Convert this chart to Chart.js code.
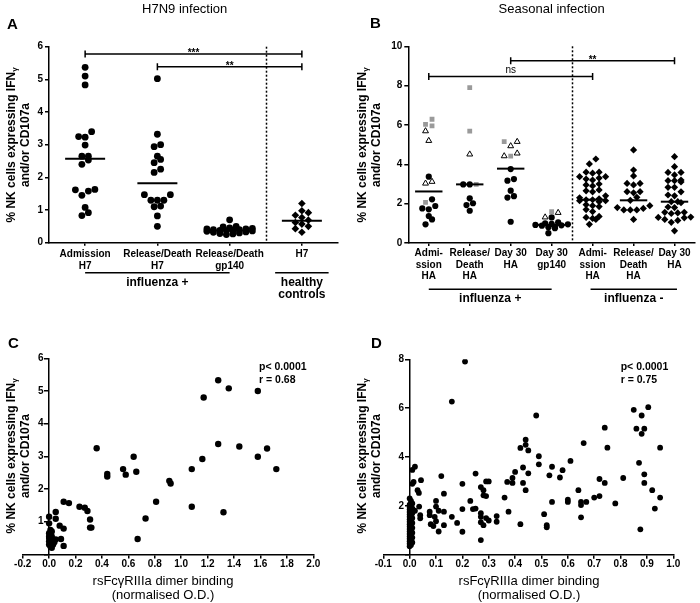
<!DOCTYPE html>
<html><head><meta charset="utf-8">
<script src="https://cdn.jsdelivr.net/npm/chart.js@4.4.1/dist/chart.umd.min.js"></script>
<style>
html,body{margin:0;padding:0;background:#fff}
body{position:relative;width:700px;height:603px;overflow:hidden;font-family:"Liberation Sans",Arial,Helvetica,sans-serif;color:#000}
canvas{position:absolute}
.t{position:absolute;white-space:nowrap;line-height:1}
.yt{position:absolute;font-weight:bold;font-size:12px;line-height:12px;text-align:center;white-space:nowrap;transform:translate(-50%,-50%) rotate(-90deg)}
.sub{font-size:8px;position:relative;top:2px}
</style></head><body>
<canvas id="cA" width="350" height="300" style="left:0;top:0"></canvas>
<canvas id="cB" width="350" height="310" style="left:350px;top:0"></canvas>
<canvas id="cC" width="350" height="303" style="left:0;top:300px"></canvas>
<canvas id="cD" width="350" height="303" style="left:350px;top:300px"></canvas>

<div class="t" style="left:184.7px;top:1.8px;font-size:13px;transform:translateX(-50%)">H7N9 infection</div>
<div class="t" style="left:551.7px;top:1.8px;font-size:13px;transform:translateX(-50%)">Seasonal infection</div>
<div class="t" style="left:7px;top:15.6px;font-size:15px;font-weight:bold">A</div>
<div class="t" style="left:370px;top:14.5px;font-size:15px;font-weight:bold">B</div>
<div class="t" style="left:8px;top:335.3px;font-size:15px;font-weight:bold">C</div>
<div class="t" style="left:371px;top:335.3px;font-size:15px;font-weight:bold">D</div>

<div class="yt" style="left:18px;top:145px">% NK cells expressing IFN<span class="sub">γ</span><br>and/or CD107a</div>
<div class="yt" style="left:369px;top:145px">% NK cells expressing IFN<span class="sub">γ</span><br>and/or CD107a</div>
<div class="yt" style="left:18px;top:456px">% NK cells expressing IFN<span class="sub">γ</span><br>and/or CD107a</div>
<div class="yt" style="left:369px;top:456px">% NK cells expressing IFN<span class="sub">γ</span><br>and/or CD107a</div>

<div class="t" style="left:259px;top:360.6px;font-size:10.5px;font-weight:bold">p&lt; 0.0001</div>
<div class="t" style="left:259px;top:373.9px;font-size:10.5px;font-weight:bold">r = 0.68</div>
<div class="t" style="left:620.7px;top:360.6px;font-size:10.5px;font-weight:bold">p&lt; 0.0001</div>
<div class="t" style="left:620.7px;top:373.9px;font-size:10.5px;font-weight:bold">r = 0.75</div>

<div class="t" style="left:163px;top:573.5px;font-size:13px;transform:translateX(-50%)">rsFcγRIIIa dimer binding</div>
<div class="t" style="left:163px;top:587.5px;font-size:13px;transform:translateX(-50%)">(normalised O.D.)</div>
<div class="t" style="left:529px;top:573.5px;font-size:13px;transform:translateX(-50%)">rsFcγRIIIa dimer binding</div>
<div class="t" style="left:529px;top:587.5px;font-size:13px;transform:translateX(-50%)">(normalised O.D.)</div>

<script>
// ================= DATA =================
// Panel A (H7N9 infection)
const catsA = [['Admission','H7'],['Release/Death','H7'],['Release/Death','gp140'],['H7']];
const admissionH7 = [5.37,5.10,4.83,3.40,3.25,3.23,2.99,2.65,2.65,2.53,2.40,1.63,1.62,1.58,1.45,1.08,0.92,0.83];
const releaseH7 = [5.02,3.32,3.00,2.94,2.65,2.55,2.45,2.25,2.15,1.47,1.47,1.30,1.30,1.30,1.12,1.10,0.82,0.50];
const releaseGp140 = [0.70,0.50,0.48,0.45,0.44,0.42,0.42,0.40,0.40,0.38,0.38,0.37,0.36,0.35,0.33,0.32,0.30,0.28,0.27,0.25];
const healthyH7 = [1.20,0.98,0.92,0.84,0.77,0.69,0.62,0.57,0.50,0.43,0.32];
const mediansA = [2.57,1.82,0.37,0.67];
const ticksAY = [0,1,2,3,4,5,6];
const sigAFrom = [0,1], sigATo = [3,3], sigAY = [5.78,5.39], sigALabel = ['***','**'];
const groupALabel = [['influenza +'],['healthy','controls']];

// Panel B (Seasonal infection)
const catsB = [['Admi-','ssion','HA'],['Release/','Death','HA'],['Day 30','HA'],['Day 30','gp140'],['Admi-','ssion','HA'],['Release/','Death','HA'],['Day 30','HA']];
const bCircle = [
  [3.37,2.22,1.88,1.76,1.71,1.37,1.20,0.95],
  [2.98,2.98,2.27,2.02,1.93,1.64],
  [3.76,3.25,3.17,2.66,2.38,2.31,1.08],
  [1.30,1.05,1.00,0.97,0.95,0.92,0.90,0.88,0.83,0.80,0.75,0.50],
  [],[],[]
];
const bSquare = [[6.29,6.03,5.95,2.07],[7.90,5.69,2.98],[5.15,4.42],[1.59],[],[],[]];
const bTriangle = [[5.69,5.20,3.12,3.03],[4.51],[5.15,4.93,4.56,4.42],[1.54,1.31],[],[],[]];
const bDiamond = [[],[],[],[],
  [4.27,4.02,3.60,3.60,3.55,3.37,3.37,3.30,3.25,3.20,3.00,2.95,2.90,2.70,2.65,2.60,2.40,2.30,2.25,2.20,2.20,2.15,2.15,2.10,1.95,1.90,1.85,1.70,1.60,1.35,1.30,1.25,1.20,0.95],
  [4.73,3.71,3.41,3.03,3.03,2.95,2.61,2.61,2.55,2.32,2.17,1.90,1.80,1.76,1.68,1.68,1.68,1.20],
  [4.39,3.88,3.59,3.59,3.46,3.20,3.17,3.17,3.10,2.83,2.83,2.60,2.44,2.40,2.10,2.10,2.05,1.83,1.80,1.56,1.56,1.53,1.50,1.32,1.30,1.28,1.20,1.15,1.05,0.62]
];
const mediansB = [2.62,2.98,3.78,0.92,2.20,2.17,2.10];
const ticksBY = [0,2,4,6,8,10];
const sigBFrom = [0,2], sigBTo = [4,6], sigBY = [8.46,9.27], sigBLabel = ['ns','**'];
const groupBLabel = [['influenza +'],['influenza -']];

// Panel C (H7N9): [rsFcgRIIIa binding, % NK cells]
const pointsC = [
  [1.17,4.80],[1.28,5.33],[1.36,5.08],[1.58,5.00],[0.36,3.25],[1.28,3.38],[1.44,3.30],[1.65,3.24],
  [0.64,2.99],[1.16,2.92],[1.58,2.99],[1.72,2.61],[0.56,2.61],[0.66,2.53],[0.44,2.46],[0.44,2.38],
  [0.58,2.44],[1.08,2.61],[0.91,2.25],[0.92,2.17],[0.81,1.61],[1.08,1.46],[1.32,1.29],[0.73,1.10],
  [0.67,0.47],[0.11,1.61],[0.15,1.57],[0.23,1.46],[0.27,1.43],[0.29,1.33],[0.31,1.07],[0.31,0.82],
  [0.32,0.82],[0.05,1.30],[0.05,1.09],[0.08,0.88],[0.11,0.79],[0.09,0.47],[0.11,0.26],
  [0.00,1.15],[0.00,0.95],[0.01,0.75],[0.02,0.70],[0.00,0.65],[0.01,0.60],[0.02,0.55],[0.00,0.50],
  [0.01,0.45],[0.00,0.40],[0.02,0.35],[0.00,0.30],[0.01,0.25],[0.03,0.30],[0.02,0.20],[0.00,0.55],
  [0.04,0.38],[0.05,0.46],[0.03,0.42]
];
const ticksCX = [-0.2,0,0.2,0.4,0.6,0.8,1.0,1.2,1.4,1.6,1.8,2.0];
const ticksCY = [0,1,2,3,4,5,6];

// Panel D (seasonal): [rsFcgRIIIa binding, % NK cells]
const pointsD = [
  [0.21,7.91],[0.16,6.27],[0.48,5.70],[0.44,4.71],[0.42,4.37],[0.44,4.50],[0.66,4.57],[0.74,5.20],
  [0.75,4.38],[0.85,5.93],[0.905,6.04],[0.88,5.70],[0.86,5.16],[0.89,5.16],[0.88,4.95],[0.95,4.38],
  [0.45,4.27],[0.49,4.03],[0.49,3.70],[0.54,3.60],[0.53,3.25],[0.58,3.46],[0.57,3.16],[0.61,3.84],
  [0.87,3.76],[0.89,3.29],[0.89,2.94],[0.81,3.14],[0.74,2.94],[0.72,3.10],[0.92,2.64],[0.93,1.89],
  [0.95,2.34],[0.875,1.04],[0.78,2.10],[0.70,2.34],[0.72,2.40],[0.67,2.16],[0.64,2.64],[0.65,2.16],
  [0.65,2.03],[0.65,1.53],[0.60,2.25],[0.60,2.16],[0.54,2.16],[0.51,1.66],[0.52,1.21],[0.52,1.12],
  [0.42,1.25],[0.375,1.76],[0.36,2.34],[0.37,2.98],[0.39,2.94],[0.39,3.14],[0.40,3.39],[0.43,3.57],
  [0.43,2.94],[0.44,2.64],[0.45,3.33],[0.33,1.58],[0.33,1.35],[0.29,3.00],[0.30,3.00],[0.28,2.64],
  [0.28,2.43],[0.29,2.40],[0.27,2.77],[0.25,1.89],[0.24,1.87],[0.23,2.20],[0.25,3.32],[0.27,1.70],
  [0.27,1.55],[0.27,1.33],[0.28,1.21],[0.29,1.50],[0.30,1.40],[0.27,0.60],[0.20,2.90],[0.20,1.87],
  [0.20,0.94],[0.18,1.30],[0.16,1.55],[0.13,1.76],[0.13,1.21],[0.13,2.50],[0.12,3.22],[0.11,0.95],
  [0.09,1.17],[0.10,1.37],[0.10,2.20],[0.10,1.97],[0.11,1.80],[0.076,1.76],[0.076,1.62],[0.08,1.25],
  [0.095,1.55],[0.043,3.05],[0.036,1.97],[0.04,1.62],[0.04,1.49],[0.03,2.64],[0.035,2.53],[0.02,3.60],
  [0.015,2.98],[0.01,3.47],[0.01,2.90],[0.02,1.80],
  [0.00,2.30],[0.005,2.20],[0.01,2.10],[0.00,2.05],[0.005,2.00],[0.00,1.95],[0.01,1.90],[0.00,1.85],
  [0.005,1.80],[0.00,1.75],[0.01,1.70],[0.00,1.65],[0.005,1.60],[0.00,1.55],[0.01,1.50],[0.00,1.45],
  [0.005,1.40],[0.00,1.35],[0.01,1.30],[0.00,1.25],[0.005,1.20],[0.00,1.15],[0.01,1.10],[0.00,1.05],
  [0.005,1.00],[0.00,0.95],[0.01,0.90],[0.00,0.85],[0.005,0.80],[0.00,0.75],[0.01,0.70],[0.00,0.65],
  [0.005,0.60],[0.00,0.55],[0.01,0.50],[0.00,0.45],[0.005,0.40],[0.00,0.35]
];
const ticksDX = [-0.1,0,0.1,0.2,0.3,0.4,0.5,0.6,0.7,0.8,0.9,1.0];
const ticksDY = [0,2,4,6,8];

// ================= RENDERING =================
const FONT = '"Liberation Sans", Arial, Helvetica, sans-serif';
Chart.defaults.font.family = FONT;
Chart.defaults.font.size = 10;
Chart.defaults.font.weight = 'bold';
Chart.defaults.color = '#000';
Chart.defaults.animation = false;

// GraphPad-like column scatter: points of similar value are put side by side in rows
function rowOffsets(vals, ppuY, d, tol, maxRow) {
  const idx = vals.map((v, i) => i).sort((a, b) => vals[a] - vals[b]);
  const out = new Array(vals.length);
  let row = [];
  const flush = () => {
    const n = row.length;
    const pos = row.map((_, j) => j - (n - 1) / 2)
      .sort((a, b) => Math.abs(a) - Math.abs(b) || a - b);
    row.forEach((i, j) => { out[i] = pos[j] * d; });
    row = [];
  };
  idx.forEach(i => {
    if (row.length && ((vals[i] - vals[row[0]]) * ppuY > tol || row.length >= maxRow)) flush();
    row.push(i);
  });
  if (row.length) flush();
  return out;
}
function buildSwarm(seriesByKey, nCats, ppuX, ppuY, d, tol, maxRow) {
  const out = {};
  Object.keys(seriesByKey).forEach(k => out[k] = []);
  for (let ci = 0; ci < nCats; ci++) {
    const flat = [];
    Object.keys(seriesByKey).forEach(k => (seriesByKey[k][ci] || []).forEach(v => flat.push({k, v})));
    const offs = rowOffsets(flat.map(f => f.v), ppuY, d, tol, maxRow);
    flat.forEach((f, i) => out[f.k].push({x: ci + offs[i] / ppuX, y: f.v}));
  }
  return out;
}

const deco = {
  id: 'deco',
  afterDatasetsDraw(chart, args, o) {
    if (!o || !o.medians) return;
    const {ctx, chartArea: ca, scales: {x, y}} = chart;
    ctx.save();
    ctx.strokeStyle = '#000'; ctx.fillStyle = '#000';
    ctx.lineWidth = 2;
    o.medians.forEach((m, i) => {
      const px = x.getPixelForValue(i), py = y.getPixelForValue(m);
      ctx.beginPath(); ctx.moveTo(px - o.medHalf, py); ctx.lineTo(px + o.medHalf, py); ctx.stroke();
    });
    ctx.lineWidth = 1.5; ctx.setLineDash([2, 2]);
    const dx = Math.round(x.getPixelForValue(o.divider)) + 0.5;
    ctx.beginPath(); ctx.moveTo(dx, ca.top); ctx.lineTo(dx, ca.bottom); ctx.stroke();
    ctx.setLineDash([]);
    o.sigFrom.forEach((f, i) => {
      const x1 = x.getPixelForValue(f), x2 = x.getPixelForValue(o.sigTo[i]), py = y.getPixelForValue(o.sigY[i]);
      ctx.lineWidth = 1.5;
      ctx.beginPath();
      ctx.moveTo(x1, py); ctx.lineTo(x2, py);
      ctx.moveTo(x1, py - 3.5); ctx.lineTo(x1, py + 3.5);
      ctx.moveTo(x2, py - 3.5); ctx.lineTo(x2, py + 3.5);
      ctx.stroke();
      const lab = o.sigLabel[i];
      const star = lab.indexOf('*') >= 0;
      ctx.font = (star ? 'bold ' : '') + '10px ' + FONT;
      ctx.textAlign = 'center'; ctx.textBaseline = 'alphabetic';
      ctx.fillText(lab, (x1 + x2) / 2, star ? py + 2 : py - 3.5);
    });
    ctx.font = 'bold 12px ' + FONT;
    ctx.textAlign = 'center'; ctx.textBaseline = 'middle';
    o.groupFrom.forEach((f, i) => {
      const x1 = x.getPixelForValue(f), x2 = x.getPixelForValue(o.groupTo[i]);
      const ly = ca.bottom + o.groupLineY;
      ctx.lineWidth = 1.5;
      ctx.beginPath(); ctx.moveTo(x1, ly); ctx.lineTo(x2, ly); ctx.stroke();
      o.groupLabel[i].forEach((t, j) => ctx.fillText(t, (x1 + x2) / 2, ca.bottom + o.groupTextY + j * 12.5));
    });
    ctx.restore();
  }
};

function catX(cats, h, pad) {
  return {
    type: 'linear', position: 'bottom', min: -0.5, max: cats.length - 0.5,
    afterBuildTicks: ax => { ax.ticks = cats.map((_, i) => ({value: i})); },
    afterFit: ax => { ax.height = h; },
    ticks: {autoSkip: false, maxRotation: 0, minRotation: 0, padding: pad, callback: v => cats[v],
            font: {size: 10, weight: 'bold', lineHeight: 1.15}, color: '#000'},
    grid: {display: true, drawOnChartArea: false, drawTicks: true, tickLength: 3, color: '#000', lineWidth: 1.5},
    border: {display: true, color: '#000', width: 1.5}
  };
}
function valY(min, max, ticks, w) {
  return {
    type: 'linear', position: 'left', min, max,
    afterBuildTicks: ax => { ax.ticks = ticks.map(v => ({value: v})); },
    afterFit: ax => { ax.width = w; },
    ticks: {padding: 2, callback: v => String(v), font: {size: 10, weight: 'bold'}, color: '#000'},
    grid: {display: true, drawOnChartArea: false, drawTicks: true, tickLength: 4, color: '#000', lineWidth: 1.5},
    border: {display: true, color: '#000', width: 1.5}
  };
}
const baseOpts = {responsive: false, animation: false, events: []};

// ---- Panel A ----
const swA = buildSwarm({circle: [admissionH7, releaseH7, releaseGp140, []], diamond: [[], [], [], healthyH7]},
  catsA.length, 72.3, 32.67, 6.5, 6, 8);
new Chart(document.getElementById('cA'), {
  type: 'scatter',
  data: {datasets: [
    {data: swA.circle, pointStyle: 'circle', pointRadius: 3.4, backgroundColor: '#000', borderWidth: 0},
    {data: swA.diamond, pointStyle: 'rectRot', pointRadius: 3.8, backgroundColor: '#000', borderWidth: 0}
  ]},
  options: Object.assign({}, baseOpts, {
    layout: {padding: {left: 0, right: 12, top: 46.7, bottom: 0}},
    plugins: {legend: {display: false}, tooltip: {enabled: false},
      deco: {medians: mediansA, medHalf: 20, divider: 2.5,
        sigFrom: sigAFrom, sigTo: sigATo, sigY: sigAY, sigLabel: sigALabel,
        groupFrom: [0, 2.63], groupTo: [2, 3.37], groupLabel: groupALabel, groupLineY: 30, groupTextY: 39.5}},
    scales: {x: catX(catsA, 57.3, 3), y: valY(0, 6, ticksAY, 49)}
  }),
  plugins: [deco]
});

// ---- Panel B ----
const swB = buildSwarm({circle: bCircle, square: bSquare, tri: bTriangle, diamond: bDiamond},
  catsB.length, 41.6, 19.67, 6.6, 5.5, 6);
new Chart(document.getElementById('cB'), {
  type: 'scatter',
  data: {datasets: [
    {data: swB.square, pointStyle: 'rect', pointRadius: 3.4, backgroundColor: '#9a9a9a', borderWidth: 0},
    {data: swB.circle, pointStyle: 'circle', pointRadius: 3.1, backgroundColor: '#000', borderWidth: 0},
    {data: swB.tri, pointStyle: 'triangle', pointRadius: 3.4, backgroundColor: '#fff', borderColor: '#000', borderWidth: 1},
    {data: swB.diamond, pointStyle: 'rectRot', pointRadius: 3.6, backgroundColor: '#000', borderWidth: 0}
  ]},
  options: Object.assign({}, baseOpts, {
    layout: {padding: {left: 0, right: 1, top: 46.3, bottom: 0}},
    plugins: {legend: {display: false}, tooltip: {enabled: false},
      deco: {medians: mediansB, medHalf: 13.7, divider: 3.5,
        sigFrom: sigBFrom, sigTo: sigBTo, sigY: sigBY, sigLabel: sigBLabel,
        groupFrom: [0, 3.95], groupTo: [3, 6.06], groupLabel: groupBLabel, groupLineY: 46.3, groupTextY: 55.5}},
    scales: {x: catX(catsB, 67, 1.5), y: valY(0, 10, ticksBY, 58.3)}
  }),
  plugins: [deco]
});

// ---- Panels C & D ----
function corrChart(id, pts, xmin, xmax, xt, ymax, yt, pad, xh, r) {
  return new Chart(document.getElementById(id), {
    type: 'scatter',
    data: {datasets: [{data: pts.map(p => ({x: p[0], y: p[1]})), pointStyle: 'circle', pointRadius: r,
      backgroundColor: '#000', borderWidth: 0}]},
    options: Object.assign({}, baseOpts, {
      layout: {padding: pad},
      plugins: {legend: {display: false}, tooltip: {enabled: false}},
      scales: {
        x: {type: 'linear', position: 'bottom', min: xmin, max: xmax,
          afterBuildTicks: ax => { ax.ticks = xt.map(v => ({value: v})); },
          afterFit: ax => { ax.height = xh; },
          ticks: {autoSkip: false, maxRotation: 0, padding: 0, callback: v => v.toFixed(1), font: {size: 10, weight: 'bold'}, color: '#000'},
          grid: {display: true, drawOnChartArea: false, drawTicks: true, tickLength: 4, color: '#000', lineWidth: 1.5},
          border: {display: true, color: '#000', width: 1.5}},
        y: {type: 'linear', position: {x: 0}, min: 0, max: ymax,
          afterBuildTicks: ax => { ax.ticks = yt.map(v => ({value: v})); },
          // axis crosses at x = 0, so the label gap is given by trailing spaces
          ticks: {callback: v => v === 0 ? '' : String(v) + '  ', font: {size: 10, weight: 'bold'}, color: '#000'},
          grid: {display: true, drawOnChartArea: false, drawTicks: true, tickLength: 4, color: '#000', lineWidth: 1.5},
          border: {display: true, color: '#000', width: 1.5}}
      }
    })
  });
}
corrChart('cC', pointsC, -0.2, 2.0, ticksCX, 6, ticksCY, {left: 22.7, right: 36.7, top: 58.3, bottom: 0}, 48.6, 3.2);
corrChart('cD', pointsD, -0.1, 1.0, ticksDX, 8, ticksDY, {left: 33.3, right: 26.7, top: 59.3, bottom: 0}, 48.3, 2.9);
</script>
</body></html>
